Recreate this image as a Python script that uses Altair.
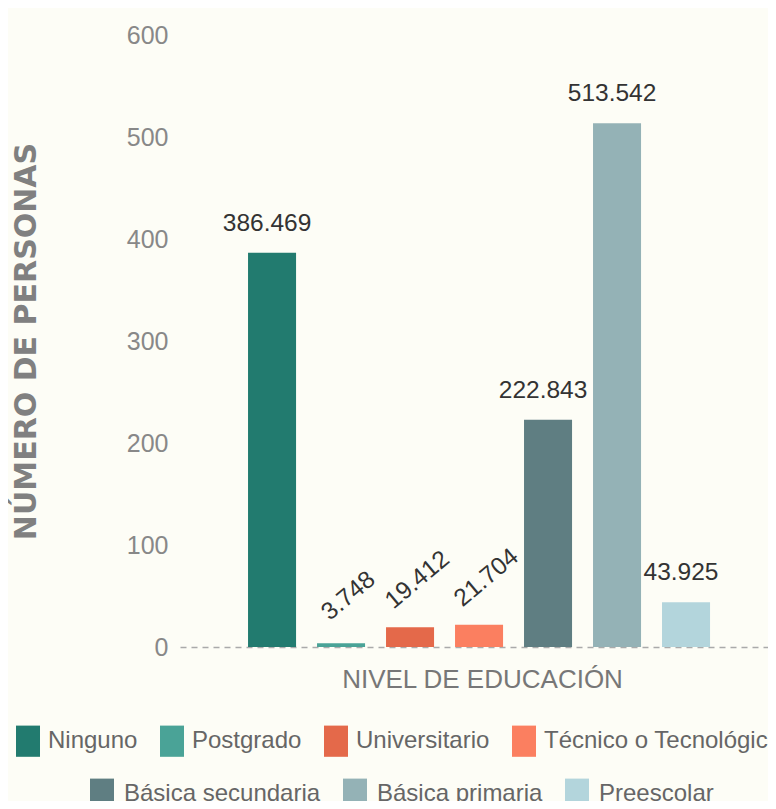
import altair as alt
import pandas as pd

categorias = ["Ninguno", "Postgrado", "Universitario", "Técnico o Tecnológico",
              "Básica secundaria", "Básica primaria", "Preescolar"]
valores = [386.469, 3.748, 19.412, 21.704, 222.843, 513.542, 43.925]
colores = ["#227b6f", "#4aa397", "#e4694a", "#fb7f60", "#5f7e82", "#94b2b6", "#b3d5dc"]
ticks_y = [0, 100, 200, 300, 400, 500, 600]

df = pd.DataFrame({"cat": categorias, "valor": valores})

NARROW = "Liberation Sans Narrow, Arial Narrow, Liberation Sans, Arial, sans-serif"
BG = "#fdfdf6"

x_enc = alt.X(
    "cat:N", sort=categorias,
    scale=alt.Scale(paddingInner=0.304, paddingOuter=0.913, align=0.54),
    axis=alt.Axis(labels=False, ticks=False, domainDash=[6, 5], domainColor="#aaaaaa",
                  domainWidth=1.5,
                  title="NIVEL DE EDUCACIÓN", titleFont=NARROW, titleFontSize=26,
                  titleFontWeight="normal", titleColor="#777777",
                  titleBaseline="alphabetic", titleX=302, titleY=40),
)
y_enc = alt.Y(
    "valor:Q", scale=alt.Scale(domain=[0, 600]),
    axis=alt.Axis(values=ticks_y, grid=False, ticks=False, domain=False,
                  labelFont=NARROW, labelFontSize=25, labelColor="#888888", labelPadding=12,
                  title="NÚMERO DE PERSONAS", titleFont="DejaVu Sans", titleFontSize=30,
                  titleFontWeight="bold", titleColor="#808080", titleAngle=270,
                  titleX=-145, titleY=306, titleBaseline="alphabetic", titleAlign="center"),
)

SYMBOL = "M-1,-1.3H1V1.3H-1Z"

def legend(x, y, offset):
    return alt.Legend(title=None, orient="none", direction="horizontal", legendX=x, legendY=y,
                      symbolType=SYMBOL, symbolSize=576, symbolStrokeWidth=0, symbolOpacity=1,
                      labelFont=NARROW, labelFontSize=24, labelColor="#666666",
                      labelOffset=offset, columnPadding=22, padding=0, labelLimit=400)

base = alt.Chart(df).encode(x=x_enc, y=y_enc)

bars1 = base.mark_bar().encode(
    color=alt.Color("cat:N", scale=alt.Scale(domain=categorias[:4], range=colores[:4]),
                    legend=legend(-164, 694, 8))
).transform_filter(alt.FieldOneOfPredicate(field="cat", oneOf=categorias[:4]))

bars2 = base.mark_bar().encode(
    color=alt.Color("cat:N", scale=alt.Scale(domain=categorias[4:], range=colores[4:]),
                    legend=legend(-90, 747, 10))
).transform_filter(alt.FieldOneOfPredicate(field="cat", oneOf=categorias[4:]))

labels_h = base.mark_text(font=NARROW, fontSize=24.5, color="#333333", baseline="alphabetic",
                          align="center", dy=-22, dx=-5).encode(
    text=alt.Text("valor:Q", format=".3f")
).transform_filter(alt.datum.valor >= 30)

labels_r = base.mark_text(font=NARROW, fontSize=24.5, color="#333333", baseline="middle",
                          align="center", angle=320, dx=36, dy=-31).encode(
    text=alt.Text("valor:Q", format=".3f")
).transform_filter(alt.datum.valor < 30)

chart = alt.layer(bars1, bars2, labels_h, labels_r).resolve_scale(
    color="independent"
).properties(
    width=588, height=612,
    padding={"left": 172, "top": 27, "right": 0, "bottom": 154},
    autosize=alt.AutoSizeParams(type="none"),
    background=BG,
).configure_view(stroke=None)

chart.save("out.html", embed_options={"renderer": "svg", "actions": False})
